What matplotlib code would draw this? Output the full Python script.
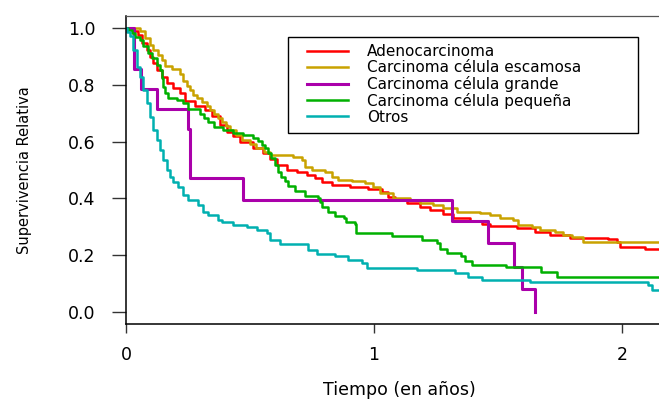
import numpy as np
import matplotlib
matplotlib.use("Agg")
import matplotlib.pyplot as plt
from matplotlib.patches import Rectangle

# Kaplan-Meier survival by histology (time in years)
names = ["Adenocarcinoma", "Carcinoma célula escamosa", "Carcinoma célula grande",
         "Carcinoma célula pequeña", "Otros"]
colors = ["#FF0000", "#C9A200", "#AA00AA", "#00B000", "#00B0B0"]

adeno_t = [0, 0.028, 0.048, 0.065, 0.085, 0.097, 0.109, 0.125, 0.145, 0.165,
           0.190, 0.218, 0.238, 0.278, 0.319, 0.347, 0.379, 0.407, 0.431, 0.460,
           0.512, 0.552, 0.581, 0.609, 0.649, 0.690, 0.730, 0.762, 0.790, 0.831,
           0.903, 0.976, 1.032, 1.056, 1.085, 1.133, 1.185, 1.226, 1.278, 1.319,
           1.387, 1.435, 1.468, 1.577, 1.649, 1.710, 1.790, 1.944, 1.980, 1.992,
           2.093]
adeno_s = [1.0, 0.989, 0.975, 0.947, 0.923, 0.898, 0.877, 0.852, 0.827, 0.806,
           0.789, 0.771, 0.743, 0.725, 0.711, 0.690, 0.658, 0.634, 0.620, 0.599,
           0.577, 0.560, 0.539, 0.518, 0.500, 0.493, 0.482, 0.472, 0.458, 0.447,
           0.440, 0.433, 0.423, 0.405, 0.394, 0.384, 0.370, 0.359, 0.345, 0.331,
           0.320, 0.310, 0.303, 0.296, 0.282, 0.271, 0.261, 0.257, 0.246, 0.229,
           0.222]

escam_t = [0, 0.056, 0.077, 0.097, 0.109, 0.129, 0.145, 0.157, 0.185, 0.218,
           0.230, 0.246, 0.258, 0.270, 0.286, 0.306, 0.327, 0.339, 0.355, 0.371,
           0.387, 0.403, 0.419, 0.444, 0.468, 0.500, 0.524, 0.556, 0.581, 0.673,
           0.710, 0.722, 0.750, 0.802, 0.831, 0.855, 0.911, 0.964, 0.996, 1.024,
           1.077, 1.145, 1.185, 1.238, 1.278, 1.335, 1.427, 1.468, 1.508, 1.560,
           1.581, 1.637, 1.669, 1.730, 1.762, 1.800, 1.843]
escam_s = [1.0, 0.990, 0.965, 0.940, 0.923, 0.905, 0.887, 0.866, 0.856, 0.838,
           0.813, 0.796, 0.782, 0.764, 0.754, 0.739, 0.725, 0.711, 0.697, 0.683,
           0.669, 0.655, 0.641, 0.623, 0.606, 0.592, 0.577, 0.563, 0.553, 0.546,
           0.535, 0.511, 0.500, 0.493, 0.475, 0.465, 0.461, 0.454, 0.440, 0.419,
           0.401, 0.394, 0.384, 0.377, 0.366, 0.352, 0.349, 0.342, 0.331, 0.324,
           0.306, 0.299, 0.289, 0.282, 0.271, 0.264, 0.246]

grande_t = [0, 0.032, 0.060, 0.125, 0.250, 0.258, 0.472, 1.315, 1.460, 1.565,
            1.597, 1.649]
grande_s = [1.0, 0.857, 0.786, 0.714, 0.643, 0.472, 0.394, 0.320, 0.243, 0.158,
            0.080, 0.0]

peq_t = [0, 0.008, 0.024, 0.036, 0.056, 0.069, 0.089, 0.105, 0.125, 0.137,
         0.145, 0.149, 0.157, 0.169, 0.206, 0.230, 0.250, 0.298, 0.315, 0.331,
         0.355, 0.391, 0.431, 0.472, 0.512, 0.532, 0.548, 0.560, 0.573, 0.585,
         0.601, 0.613, 0.625, 0.641, 0.653, 0.681, 0.722, 0.774, 0.782, 0.790,
         0.815, 0.843, 0.879, 0.887, 0.923, 0.927, 1.073, 1.194, 1.254, 1.266,
         1.294, 1.351, 1.367, 1.395, 1.532, 1.673, 1.738]
peq_s = [1.0, 0.993, 0.982, 0.968, 0.958, 0.937, 0.912, 0.894, 0.870, 0.852,
         0.824, 0.792, 0.771, 0.754, 0.746, 0.736, 0.715, 0.697, 0.683, 0.669,
         0.651, 0.641, 0.630, 0.623, 0.613, 0.602, 0.588, 0.577, 0.560, 0.542,
         0.518, 0.493, 0.475, 0.461, 0.444, 0.426, 0.408, 0.401, 0.387, 0.370,
         0.352, 0.338, 0.331, 0.317, 0.310, 0.278, 0.268, 0.254, 0.243, 0.222,
         0.208, 0.197, 0.180, 0.165, 0.158, 0.141, 0.123]

otros_t = [0, 0.005, 0.016, 0.029, 0.043, 0.056, 0.070, 0.083, 0.097, 0.110,
           0.124, 0.137, 0.150, 0.164, 0.177, 0.191, 0.211, 0.231, 0.250, 0.290,
           0.310, 0.331, 0.371, 0.387, 0.431, 0.488, 0.528, 0.569, 0.581, 0.621,
           0.734, 0.770, 0.843, 0.895, 0.952, 0.972, 1.173, 1.327, 1.379, 1.435,
           1.629, 2.105, 2.121]
otros_s = [1.0, 0.985, 0.970, 0.923, 0.864, 0.829, 0.782, 0.735, 0.688, 0.641,
           0.606, 0.570, 0.535, 0.500, 0.476, 0.459, 0.441, 0.412, 0.394, 0.377,
           0.352, 0.342, 0.324, 0.317, 0.306, 0.299, 0.289, 0.278, 0.254, 0.238,
           0.218, 0.204, 0.197, 0.183, 0.173, 0.155, 0.148, 0.137, 0.123, 0.113,
           0.106, 0.095, 0.078]

# last follow-up time of each group
last_time = [2.4, 2.4, 1.649, 2.4, 2.4]

curves = [(adeno_t, adeno_s), (escam_t, escam_s), (grande_t, grande_s),
          (peq_t, peq_s), (otros_t, otros_s)]

plt.rcParams['font.family'] = ['DejaVu Sans']

fig = plt.figure(figsize=(6.59, 3.99), dpi=100)
ax = fig.add_axes([126/659, 75/399, 533/659, 308/399])

for (t, s), end, name, col in zip(curves, last_time, names, colors):
    tt = np.append(t, end)
    ss = np.append(s, s[-1])
    lw = 2.2 if name == "Carcinoma célula grande" else 1.8
    ax.step(tt, ss, where='post', color=col, lw=lw, label=name)

ax.set_xlim(0, 2.149)
ax.set_ylim(-0.042, 1.042)
ax.set_xticks([0, 1, 2])
ax.set_xticklabels(["0", "1", "2"])
ax.set_yticks([0, 0.2, 0.4, 0.6, 0.8, 1.0])
ax.set_yticklabels(["0.0", "0.2", "0.4", "0.6", "0.8", "1.0"])

ax.spines['right'].set_visible(False)
ax.spines['top'].set_color('#555555')
ax.spines['top'].set_linewidth(0.9)
for side in ['left', 'bottom']:
    ax.spines[side].set_color('black')
    ax.spines[side].set_linewidth(1.1)

ax.tick_params(axis='y', length=10, width=1, color='#333333', pad=12, labelsize=12.5)
ax.tick_params(axis='x', length=6.5, width=1, color='#333333', pad=9, labelsize=12.5)

ax.set_xlabel("Tiempo (en años)", fontsize=12.5)
ax.xaxis.label.set_va('center')
ax.xaxis.set_label_coords(0.512, -0.213)
ax.set_ylabel("Supervivencia Relativa", fontsize=10.5)
ax.yaxis.label.set(va='center', ha='center', rotation_mode='default')
ax.yaxis.set_label_coords(-0.191, 0.5)

# legend box drawn separately so the padding can be set per side
box = Rectangle((288/659, 266/399), 350/659, 96/399, transform=fig.transFigure,
                facecolor='white', edgecolor='black', lw=1.0, zorder=3)
ax.add_patch(box)
leg = ax.legend(loc='upper left', bbox_to_anchor=(307/659, 1 - 44.5/399),
                bbox_transform=fig.transFigure, frameon=False, borderpad=0,
                borderaxespad=0, handlelength=2.68, handletextpad=1.24,
                labelspacing=0.05, fontsize=11)
leg.set_zorder(4)

fig.savefig("out.png", dpi=100)
